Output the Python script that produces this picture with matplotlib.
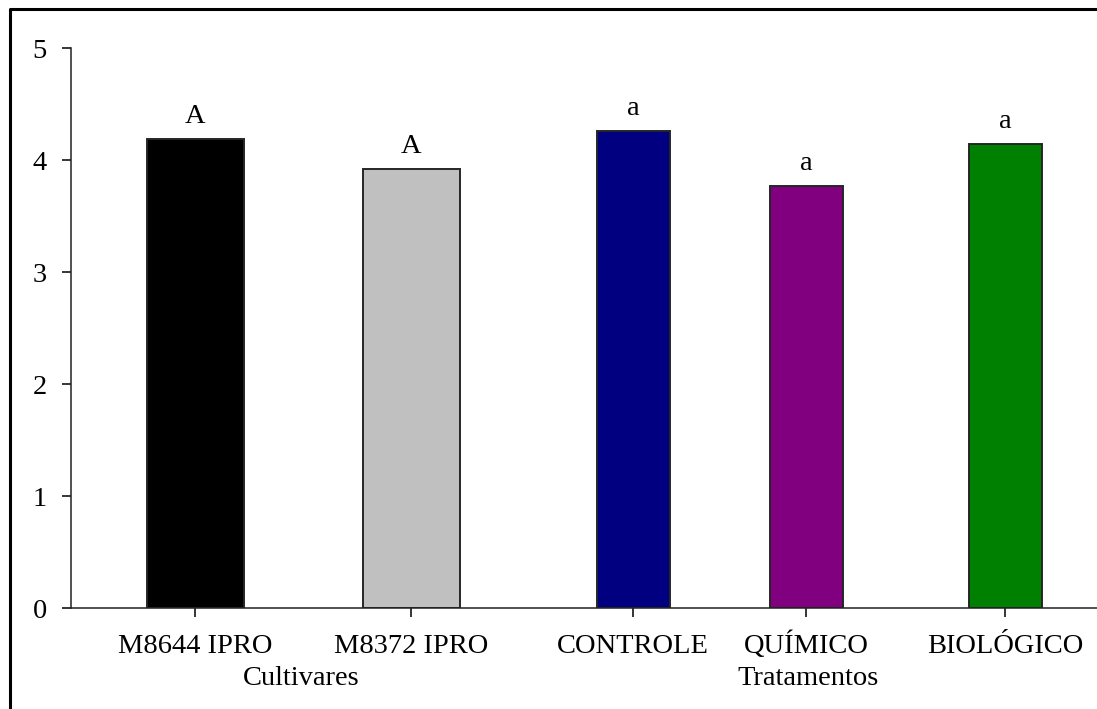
import matplotlib
matplotlib.use("Agg")
import matplotlib.pyplot as plt
from matplotlib.lines import Line2D

# Bar data: cultivars and treatments
categories = ["M8644 IPRO", "M8372 IPRO", "CONTROLE", "QUÍMICO", "BIOLÓGICO"]
values = [4.19, 3.92, 4.26, 3.77, 4.14]
letters = ["A", "A", "a", "a", "a"]
colors = ["#000000", "#C0C0C0", "#000080", "#800080", "#008000"]
group_names = ["Cultivares", "Tratamentos"]
yticks = [0, 1, 2, 3, 4, 5]

# Layout
positions = [1.24, 3.40, 5.62, 7.35, 9.34]
widths = [0.97, 0.97, 0.73, 0.73, 0.73]
group_x = [2.30, 7.37]

plt.rcParams["font.family"] = ["Liberation Serif", "DejaVu Serif"]
fs = 20.5

W, H = 1097, 709
fig = plt.figure(figsize=(W / 100, H / 100), dpi=100)
ax = fig.add_axes([71 / W, (H - 608) / H, 1 - 71 / W, (608 - 48) / H])

ax.bar(positions, values, width=widths, color=colors,
       edgecolor="#262626", linewidth=1.4, zorder=2)

for x, v, t in zip(positions, values, letters):
    ax.annotate(t, (x, v), xytext=(0, 11.5), textcoords="offset points",
                ha="center", va="baseline", fontsize=fs)

ax.set_xlim(0, 10.26)
ax.set_ylim(0, 5)
ax.set_yticks(yticks)
ax.set_xticks(positions)
ax.set_xticklabels(categories, fontsize=fs, va="baseline")
ax.tick_params(axis="y", direction="out", length=6.5, width=1.1, pad=11, labelsize=fs)
ax.tick_params(axis="x", direction="out", length=6.5, width=1.1, pad=26, labelsize=fs)

for s in ["top", "right"]:
    ax.spines[s].set_visible(False)
for s in ["left", "bottom"]:
    ax.spines[s].set_linewidth(1.1)
    ax.spines[s].set_color("#222222")

# Group labels below the tick labels
for gx, name in zip(group_x, group_names):
    ax.annotate(name, (gx, 0), xytext=(0, -77 / 1.3889), textcoords="offset points",
                ha="center", va="baseline", fontsize=fs)

# Outer frame
fig.add_artist(Line2D([9.5 / W, 9.5 / W, 1.0], [0, 1 - 9 / H, 1 - 9 / H],
                      transform=fig.transFigure, color="black", linewidth=2.2))

fig.savefig("out.png", dpi=100)
